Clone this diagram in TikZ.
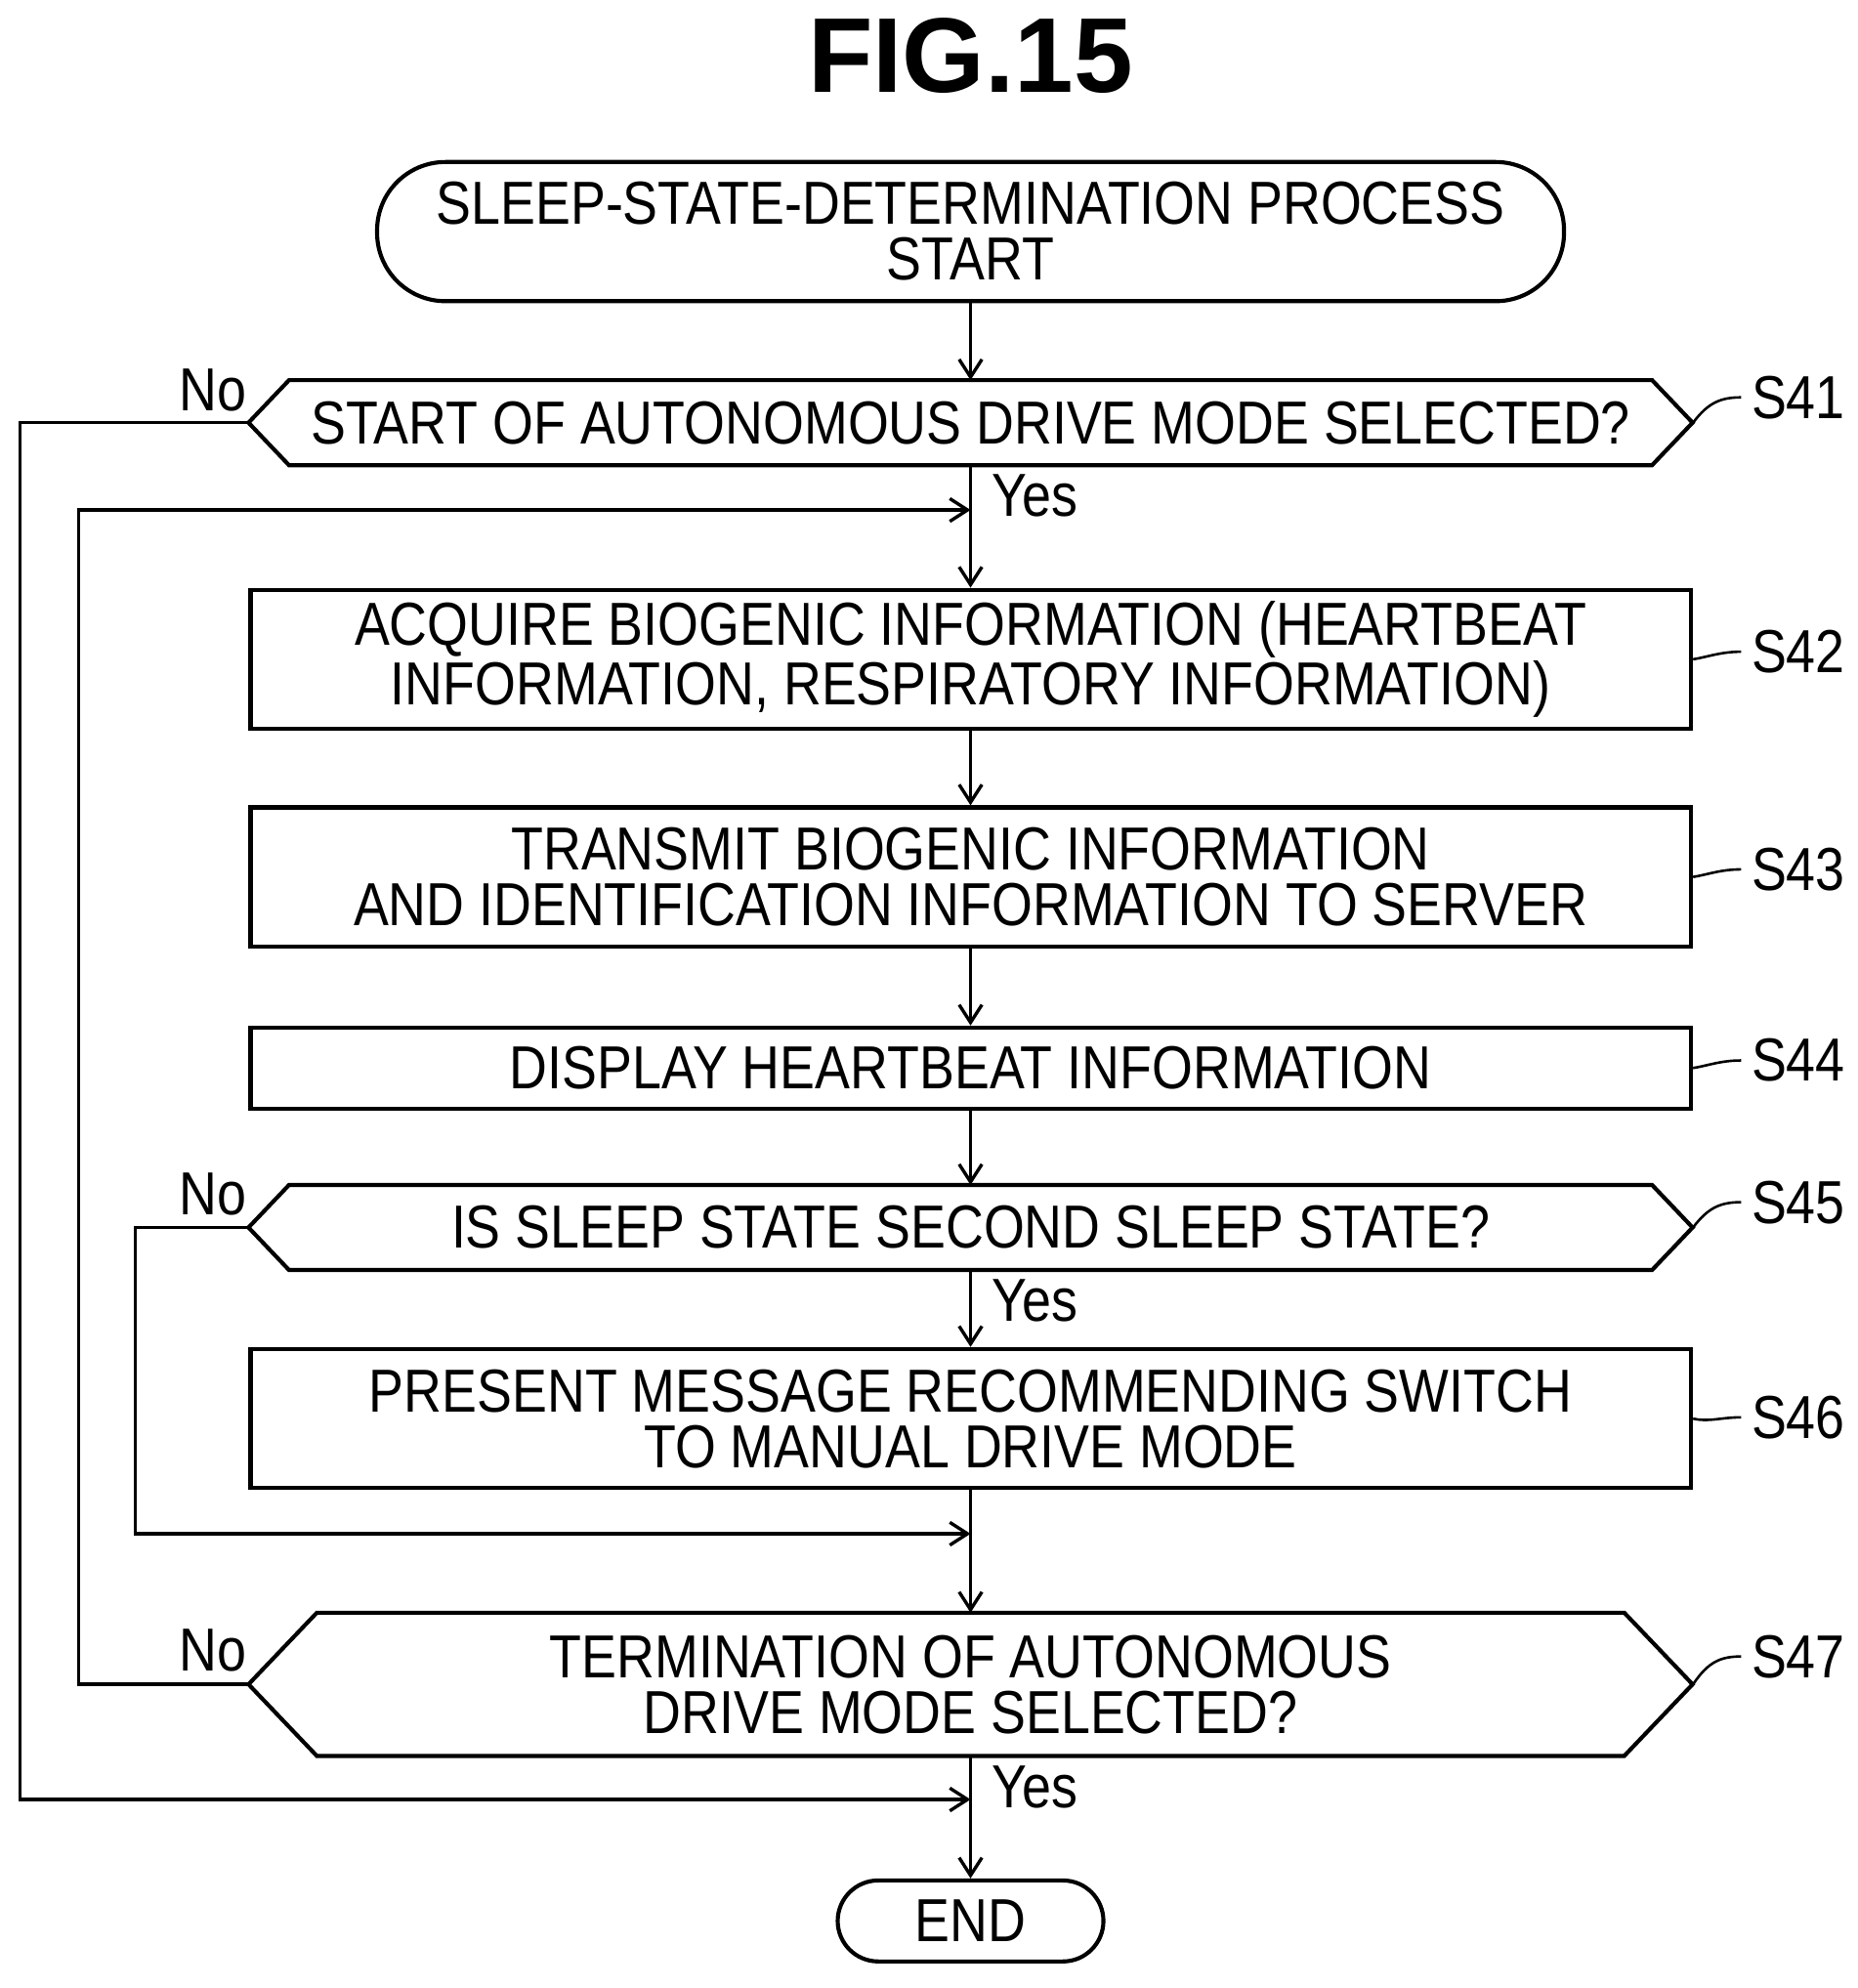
\documentclass[tikz,border=0pt]{standalone}
\usepackage{fontspec}
\setmainfont{Liberation Sans}[FakeStretch=0.865]
\newfontfamily\titlefont{Liberation Sans}
\usetikzlibrary{arrows.meta}
\begin{document}
\begin{tikzpicture}[x=0.5pt,y=-0.5pt,line width=1.6pt,
 box/.style={draw,minimum width=569pt,align=center,inner sep=0pt,font=\fontsize{24}{22}\selectfont},
 hex/.style={box,draw=none},
 lbl/.style={font=\fontsize{24}{22}\selectfont},
 arr/.style={line width=1.3pt,-{Straight Barb[length=7pt,width=9pt]}}]
\useasboundingbox (0,0) rectangle (1468,1571);
\node[font=\titlefont\fontsize{42}{42}\bfseries\selectfont] (fig) at (767,44) {FIG.15};
\node[box,rounded corners=27pt,minimum width=469pt,minimum height=55pt] (st) at (767,183) {SLEEP-STATE-DETERMINATION PROCESS\\START};
\node[hex,minimum height=32pt] (s41) at (767,334) {START OF AUTONOMOUS DRIVE MODE SELECTED?};
\node[box,minimum height=55pt] (s42) at (767,521) {ACQUIRE BIOGENIC INFORMATION (HEARTBEAT\\INFORMATION, RESPIRATORY INFORMATION)};
\node[box,minimum height=55pt] (s43) at (767,693) {TRANSMIT BIOGENIC INFORMATION\\AND IDENTIFICATION INFORMATION TO SERVER};
\node[box,minimum height=32pt] (s44) at (767,844) {DISPLAY HEARTBEAT INFORMATION};
\node[hex,minimum height=32pt] (s45) at (767,970) {IS SLEEP STATE SECOND SLEEP STATE?};
\node[box,minimum height=55pt] (s46) at (767,1121) {PRESENT MESSAGE RECOMMENDING SWITCH\\TO MANUAL DRIVE MODE};
\node[hex,minimum height=55pt] (s47) at (767,1331) {TERMINATION OF AUTONOMOUS\\DRIVE MODE SELECTED?};
\node[box,rounded corners=16pt,minimum width=105pt,minimum height=32pt] (end) at (767,1518) {END};
\foreach \n/\d in {s41/16pt,s45/16pt,s47/27pt}
 \draw (\n.west) -- ([xshift=\d]\n.north west) -- ([xshift=-\d]\n.north east) -- (\n.east) -- ([xshift=-\d]\n.south east) -- ([xshift=\d]\n.south west) -- cycle;
\draw[arr] (st) -- (s41);
\draw[arr] (s41) -- (s42);
\draw[arr] (s42) -- (s43);
\draw[arr] (s43) -- (s44);
\draw[arr] (s44) -- (s45);
\draw[arr] (s45) -- (s46);
\draw[arr] (s46) -- (s47);
\draw[arr] (s47) -- (end);
\coordinate (j1) at (767,1422);
\coordinate (j2) at (767,403);
\coordinate (j3) at (767,1212);
\draw[arr] (s41.west) -- (16,334) -- (16,1422) -- (j1);
\draw[arr] (s47.west) -- (62,1331) -- (62,403) -- (j2);
\draw[arr] (s45.west) -- (107,970) -- (107,1212) -- (j3);
\node[lbl] (n1) at (168,308) {No};
\node[lbl] (n2) at (168,944) {No};
\node[lbl] (n3) at (168,1304) {No};
\node[lbl] (y1) at (818,392) {Yes};
\node[lbl] (y2) at (818,1028) {Yes};
\node[lbl] (y3) at (818,1412) {Yes};
\foreach \n/\t/\y/\ly in {s41/S41/334/314,s42/S42/521/515,s43/S43/693/687,s44/S44/844/838,s45/S45/970/950,s46/S46/1121/1120,s47/S47/1331/1309}{
 \node[lbl,anchor=west] (l\t) at (1376,\ly) {\t};
 \draw[line width=1pt] (1338,\y) .. controls (1350,\ly+4) and (1360,\ly) .. (l\t.west);
}
\end{tikzpicture}
\end{document}
